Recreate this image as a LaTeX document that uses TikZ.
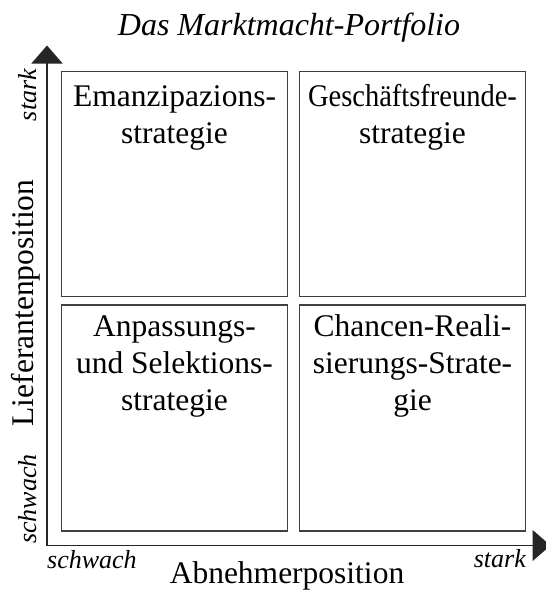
\documentclass[tikz,border=0pt]{standalone}
\usepackage{fontspec}
\setmainfont{Liberation Serif}
\usetikzlibrary{arrows.meta}
\begin{document}
\begin{tikzpicture}[x=1pt,y=-1pt,
  quad/.style={draw=black!75, line width=1.1pt, inner sep=0pt,
    minimum width=226pt},
  big/.style={font=\fontsize{31.5}{37}\selectfont, inner sep=0pt},
  % multi-line labels are anchored on the baseline of their last line
  boxtext/.style={big, align=center, anchor=base},
  small/.style={font=\fontsize{26}{30}\selectfont\itshape, inner sep=0pt},
  axis/.style={line width=1.4pt, draw=black!85,
    {Triangle[width=31pt,length=18pt]}-{Triangle[width=31pt,length=18pt]}}]
\useasboundingbox (0,0) rectangle (546,590);

% four quadrants of the portfolio
\node[quad, minimum height=225pt] (q1) at (174.5,184) {};
\node[quad, minimum height=225pt] (q2) at (412.5,184) {};
\node[quad, minimum height=226pt] (q3) at (174.5,418) {};
\node[quad, minimum height=226pt] (q4) at (412.5,418) {};

% strategy names
\node[boxtext] (t1) at (174.5,143) {Emanzipazions-\\strategie};
\node[boxtext] (t2) at (412.5,143) {\scalebox{0.905}[1]{Geschäftsfreunde-}\\strategie};
\node[boxtext] (t3) at (174.5,410) {Anpassungs-\\und Selektions-\\strategie};
\node[boxtext] (t4) at (412.5,410) {Chancen-Reali-\\sierungs-Strate-\\gie};

% axes
\coordinate (o) at (47,545.5);
\coordinate (ytip) at (47,45.5);
\coordinate (xtip) at (550.5,545.5);
\draw[axis] (ytip) -- (o) -- (xtip);

% title and axis labels
\node[big, font=\fontsize{32}{37}\selectfont\itshape, anchor=base] (title) at (289,35) {Das Marktmacht-Portfolio};
\node[big, anchor=base, rotate=90] (ylab) at (34,303) {Lieferantenposition};
\node[big, anchor=base] (xlab) at (287,583) {Abnehmerposition};
\node[small, anchor=base, rotate=90] (ystark) at (36,95) {stark};
\node[small, anchor=base, rotate=90] (yschwach) at (36,499) {schwach};
\node[small, anchor=base west] (xschwach) at (47,568) {schwach};
\node[small, anchor=base east] (xstark) at (526,567) {stark};
\end{tikzpicture}
\end{document}
